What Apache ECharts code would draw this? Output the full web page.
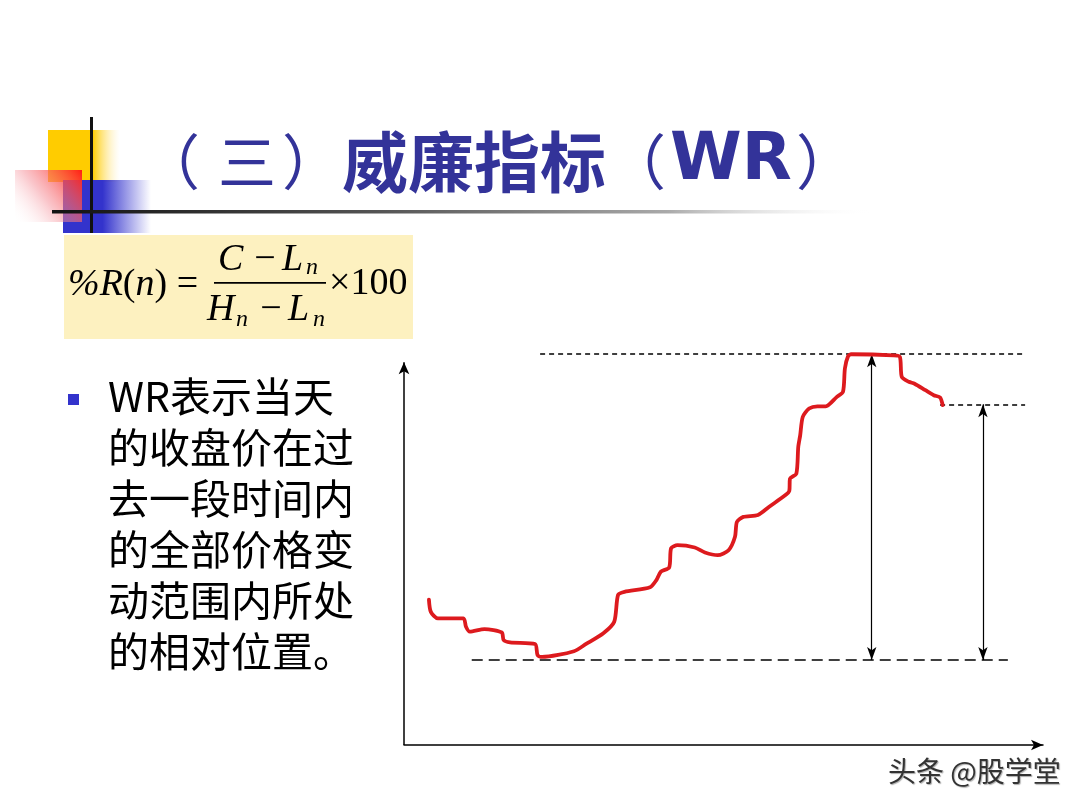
<!DOCTYPE html>
<html>
<head>
<meta charset="utf-8">
<title>威廉指标（WR）</title>
<script src="https://cdn.jsdelivr.net/npm/echarts@6/dist/echarts.min.js"></script>
<style>
html,body{margin:0;padding:0;background:#fff;}
#main{width:1080px;height:810px;}
</style>
</head>
<body>
<div id="main"></div>
<script>
// ---- data (abstract time / price units) ----
var dayIndex = [3.9,4.2,5.3,9.3,9.7,10.3,12.6,15.3,15.6,16.6,20.5,20.9,21.6,26.6,28.5,31.2,32.9,33.5,34.5,38.5,39.5,40.2,41.5,41.8,42.8,45.5,47.1,49.1,50.8,51.8,52.1,53.1,55.4,57.1,59.7,60.3,60.4,61.4,61.7,62.0,62.4,63.4,64.7,66.0,67.7,68.7,69.0,69.5,70.0,76.6,77.6,77.9,79.0,79.9,81.6,82.9,83.9,84.3];
var closePrice = [38.0,34.8,33.1,33.1,30.9,29.6,30.3,29.4,27.4,26.8,26.4,23.5,23.0,24.5,26.4,29.2,32.2,39.2,40.0,41.2,43.1,45.3,46.4,51.4,52.2,51.6,50.3,49.6,50.9,54.4,58.3,59.6,60.1,62.2,65.3,66.4,69.6,70.9,77.9,80.9,85.7,87.9,88.5,88.5,90.9,92.3,98.4,101.6,102.1,101.8,101.4,96.2,94.9,94.4,92.7,91.4,90.8,88.8];
var highLevel = 102.1;   // Hn
var lowLevel = 22.2;     // Ln
var lastClose = 89.0;    // C
var highSpan = [21.3, 97.2];
var lowSpan = [10.6, 94.5];
var closeSpan = [83.9, 97.2];
var rangeArrowX = 73.2;
var closeArrowX = 90.6;
var yAxisTop = 100;      // where the drawn y-axis arrow ends
var bodyLines = ['WR表示当天','的收盘价在过','去一段时间内','的全部价格变','动范围内所处','的相对位置。'];

var pricePairs = dayIndex.map(function (d, i) { return [d, closePrice[i]]; });

var chart = echarts.init(document.getElementById('main'), null, {renderer: 'canvas'});

var navy = '#333399';
var serif = '"Liberation Serif", "DejaVu Serif", serif';
var cjk = '"Noto Sans CJK SC", "Noto Sans", sans-serif';

function t(x, y, text, size, italic, align) {
  return {
    type: 'text', x: x, y: y, z: 10,
    style: {
      text: text, fill: '#000', font: (italic ? 'italic ' : '') + size + 'px ' + serif,
      textAlign: align || 'left', textVerticalAlign: 'middle'
    }
  };
}
function title(x, text, font) {
  return {type:'text', x:x, y:162, z:10,
    style:{text:text, font:font, fill:navy, textVerticalAlign:'middle'}};
}

var graphics = [
  // decoration
  {type:'rect', shape:{x:48,y:130,width:72,height:52}, z:1,
   style:{fill:new echarts.graphic.LinearGradient(0,0,1,0,[{offset:0,color:'#ffcc00'},{offset:0.62,color:'#ffcc00'},{offset:1,color:'rgba(255,235,170,0)'}])}},
  {type:'rect', shape:{x:63,y:180,width:88,height:53}, z:1,
   style:{fill:new echarts.graphic.LinearGradient(0,0,1,0,[{offset:0,color:'#3333cc'},{offset:0.45,color:'#3333cc'},{offset:1,color:'rgba(60,60,210,0)'}])}},
  {type:'rect', shape:{x:15,y:170,width:67,height:52}, z:2,
   style:{fill:new echarts.graphic.LinearGradient(0,1,1,0,[{offset:0,color:'rgba(255,255,255,0)'},{offset:0.45,color:'rgba(245,140,150,0.5)'},{offset:1,color:'rgba(255,30,20,1)'}])}},
  {type:'rect', shape:{x:90,y:117,width:3,height:116}, z:3, style:{fill:'#111'}},
  {type:'rect', shape:{x:52,y:210,width:822,height:3.5}, z:3,
   style:{fill:new echarts.graphic.LinearGradient(0,0,1,0,[{offset:0,color:'#111'},{offset:0.4,color:'#555'},{offset:0.75,color:'#aaa'},{offset:1,color:'rgba(255,255,255,0)'}])}},
  // title
  title(140, '（', '60px ' + cjk),
  {type:'text', x:247, y:162, z:10, style:{text:'三', font:'58px ' + cjk, fill:navy, textAlign:'center', textVerticalAlign:'middle'}},
  title(282, '）', '60px ' + cjk),
  title(342, '威廉指标', 'bold 66px ' + cjk),
  title(606, '（', '60px ' + cjk),
  title(670, 'WR', 'bold 65px "DejaVu Sans", sans-serif'),
  title(796, '）', '60px ' + cjk),
  // formula box
  {type:'rect', shape:{x:64,y:235,width:349,height:104}, z:4, style:{fill:'#fdf1c0'}},
  {type:'text', x:68, y:285, z:10,
   style:{text:'{i|%R}{u|(}{i|n}{u|) =}', textVerticalAlign:'middle',
     rich:{i:{fontSize:38,fontFamily:serif,fontStyle:'italic',fill:'#000'}, u:{fontSize:38,fontFamily:serif,fill:'#000'}}}},
  {type:'rect', shape:{x:214,y:282,width:112,height:1.8}, z:10, style:{fill:'#000'}},
  t(218, 260, 'C', 38, true),
  t(265, 260, '−', 38, false, 'center'),
  t(282, 260, 'L', 38, true),
  t(306, 268, 'n', 24, true),
  t(207, 310, 'H', 38, true),
  t(236, 320, 'n', 24, true),
  t(271, 310, '−', 38, false, 'center'),
  t(288, 310, 'L', 38, true),
  t(313, 320, 'n', 24, true),
  t(329, 284, '×100', 38, false),
  // bullet
  {type:'rect', shape:{x:68,y:394,width:11,height:11}, z:10, style:{fill:'#3333cc'}},
  {type:'text', x:108, y:371, z:10,
   style:{text: bodyLines.join('\n'), font:'41px ' + cjk, fill:'#000', lineHeight:51, textVerticalAlign:'top'}},
  // watermark
  {type:'text', x:888, y:771, z:10,
   style:{text:'头条 @股学堂', font:'28px ' + cjk, fill:'#333', textVerticalAlign:'middle',
     textShadowColor:'rgba(150,150,150,0.8)', textShadowOffsetX:1, textShadowOffsetY:1, textShadowBlur:1}}
];

function seg(x1, y1, x2, y2) { return [{coord:[x1,y1]},{coord:[x2,y2]}]; }

var option = {
  backgroundColor: '#fff',
  animation: false,
  grid: {left:404, top:324, width:639, height:421},
  xAxis: {
    type:'value', min:0, max:100,
    axisLine:{show:true, symbol:['none','arrow'], symbolSize:[8,12], lineStyle:{color:'#000', width:1.5}},
    axisTick:{show:false}, axisLabel:{show:false}, splitLine:{show:false}
  },
  yAxis: {
    type:'value', min:0, max:110,
    axisLine:{show:false},
    axisTick:{show:false}, axisLabel:{show:false}, splitLine:{show:false}
  },
  graphic: graphics,
  series: [
    {
      name:'yaxis', type:'line', data:[], silent:true,
      markLine:{
        silent:true, symbol:['none','arrow'], symbolSize:[8,12], label:{show:false}, animation:false,
        data:[ seg(0, 0, 0, yAxisTop) ],
        lineStyle:{color:'#000', width:1.5, type:'solid'}
      }
    },
    {
      name:'levels', type:'line', data:[], silent:true,
      markLine:{
        silent:true, symbol:['none','none'], label:{show:false}, animation:false,
        data:[
          seg(highSpan[0], highLevel, highSpan[1], highLevel),
          seg(closeSpan[0], lastClose, closeSpan[1], lastClose)
        ],
        lineStyle:{color:'#000', width:1.5, type:[5,4]}
      }
    },
    {
      name:'low', type:'line', data:[], silent:true,
      markLine:{
        silent:true, symbol:['none','none'], label:{show:false}, animation:false,
        data:[ seg(lowSpan[0], lowLevel, lowSpan[1], lowLevel) ],
        lineStyle:{color:'#000', width:1.5, type:[11,6]}
      }
    },
    {
      name:'ranges', type:'line', data:[], silent:true,
      markLine:{
        silent:true, symbol:['arrow','arrow'], symbolSize:[7,13], label:{show:false}, animation:false,
        data:[
          seg(rangeArrowX, highLevel, rangeArrowX, lowLevel),
          seg(closeArrowX, lastClose, closeArrowX, lowLevel)
        ],
        lineStyle:{color:'#000', width:1.2, type:'solid'}
      }
    },
    {
      name:'close', type:'line', data:pricePairs, smooth:0.25, showSymbol:false, clip:false, silent:true,
      lineStyle:{color:'#dd1a1e', width:3.8, cap:'round', join:'round'},
      z:5
    }
  ]
};
chart.setOption(option);
</script>
</body>
</html>
